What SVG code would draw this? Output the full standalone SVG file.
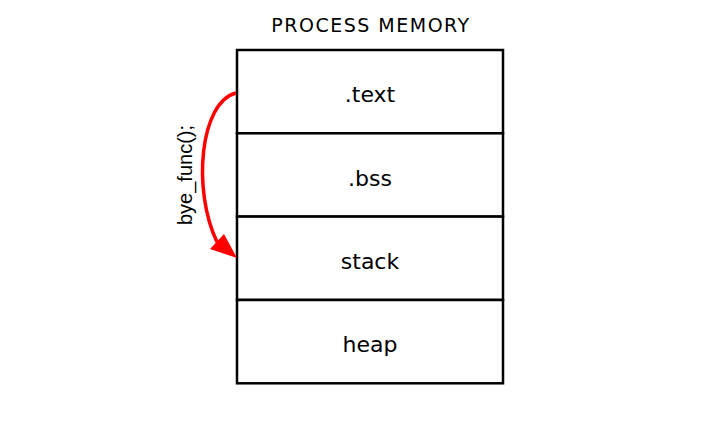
<svg xmlns="http://www.w3.org/2000/svg" width="721" height="424" viewBox="0 0 721 424">
<style>
.cell{fill:#fff;stroke:#000;stroke-width:2.5}
.lbl{font-family:"DejaVu Sans",sans-serif;font-size:22px;text-anchor:middle;fill:#000}
.title{font-family:"DejaVu Sans",sans-serif;font-size:19px;letter-spacing:1.5px;text-anchor:middle;fill:#000}
.edge{font-family:"Liberation Sans",sans-serif;font-size:20px;text-anchor:middle;fill:#000}
</style>
<rect width="721" height="424" fill="#fff"/>
<text class="title" x="371" y="32">PROCESS MEMORY</text>
<g id="text"><rect class="cell" x="237" y="50" width="266" height="83.3"/><text class="lbl" x="370" y="102">.text</text></g>
<g id="bss"><rect class="cell" x="237" y="133.3" width="266" height="83.3"/><text class="lbl" x="370" y="186">.bss</text></g>
<g id="stack"><rect class="cell" x="237" y="216.6" width="266" height="83.3"/><text class="lbl" x="370" y="269">stack</text></g>
<g id="heap"><rect class="cell" x="237" y="300" width="266" height="83.3"/><text class="lbl" x="370" y="352">heap</text></g>
<g id="connectors">
<path d="M236 93 C200 102,192 190,217 242" fill="none" stroke="#f00" stroke-width="3.5"/>
<polygon points="237,258 210,249 224,234" fill="#f00"/>
<text class="edge" transform="translate(192,175) rotate(-90)">bye_func();</text>
</g>
</svg>
